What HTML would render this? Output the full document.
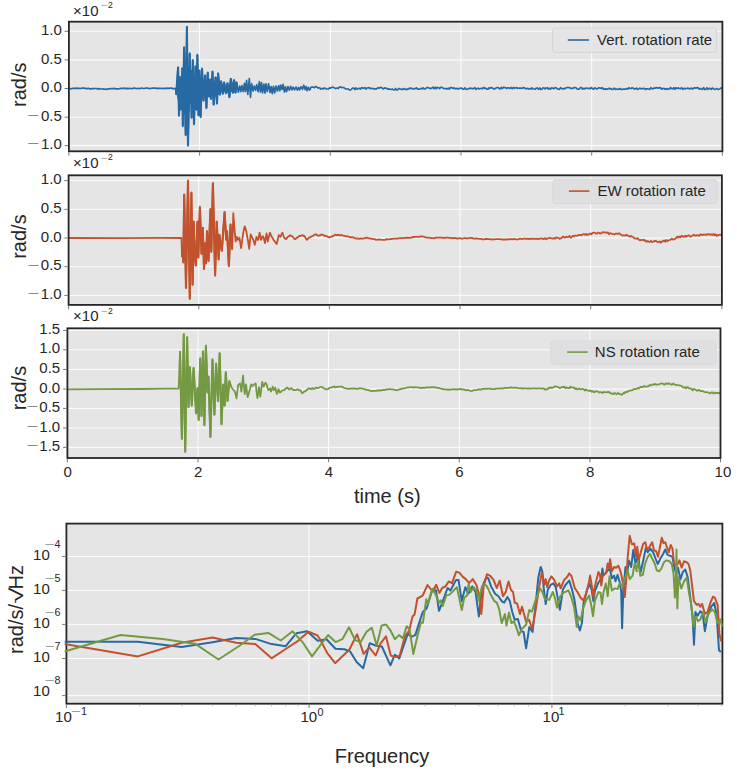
<!DOCTYPE html>
<html><head><meta charset="utf-8"><title>Rotation rate</title>
<style>html,body{margin:0;padding:0;background:#fff}svg{display:block}</style></head>
<body>
<svg width="737" height="772" viewBox="0 0 737 772">
<rect width="737" height="772" fill="#fff"/>
<defs>
<clipPath id="c0"><rect x="66.9" y="21.7" width="655.5" height="129.60000000000002"/></clipPath>
<clipPath id="c1"><rect x="66.6" y="175.3" width="655.3" height="129.59999999999997"/></clipPath>
<clipPath id="c2"><rect x="65.4" y="328.3" width="655.1" height="129.7"/></clipPath>
<clipPath id="c3"><rect x="64.4" y="523.6" width="659.0" height="180.10000000000002"/></clipPath>
</defs>
<rect x="68.9" y="21.7" width="653.5" height="129.60000000000002" fill="#E5E5E5"/>
<path d="M68.9 31.3 H722.4 M68.9 59.9 H722.4 M68.9 88.5 H722.4 M68.9 117.2 H722.4 M68.9 145.6 H722.4 M199.6 21.7 V151.3 M330.3 21.7 V151.3 M461.0 21.7 V151.3 M591.7 21.7 V151.3" stroke="#fff" stroke-width="0.95" fill="none"/>
<rect x="68.6" y="175.3" width="653.3" height="129.59999999999997" fill="#E5E5E5"/>
<path d="M68.6 180.6 H721.9 M68.6 209.3 H721.9 M68.6 238.0 H721.9 M68.6 266.7 H721.9 M68.6 295.4 H721.9 M198.8 175.3 V304.9 M329.4 175.3 V304.9 M460.1 175.3 V304.9 M590.7 175.3 V304.9" stroke="#fff" stroke-width="0.95" fill="none"/>
<rect x="67.4" y="328.3" width="653.1" height="129.7" fill="#E5E5E5"/>
<path d="M67.4 330.4 H720.5 M67.4 349.8 H720.5 M67.4 369.4 H720.5 M67.4 389.0 H720.5 M67.4 408.4 H720.5 M67.4 428.0 H720.5 M67.4 447.4 H720.5 M198.0 328.3 V458.0 M328.6 328.3 V458.0 M459.3 328.3 V458.0 M589.9 328.3 V458.0" stroke="#fff" stroke-width="0.95" fill="none"/>
<rect x="66.4" y="523.6" width="656.0" height="180.10000000000002" fill="#E5E5E5"/>
<path d="M66.4 556.4 H722.4 M66.4 590.4 H722.4 M66.4 624.4 H722.4 M66.4 658.5 H722.4 M66.4 695.6 H722.4 M309.1 523.6 V703.7 M551.9 523.6 V703.7" stroke="#fff" stroke-width="0.95" fill="none"/>
<g fill="none" stroke-linejoin="round" stroke-linecap="butt">
<path clip-path="url(#c0)" d="M68.9 88.5 L70.2 88.5 L71.5 88.8 L72.8 88.4 L74.1 88.4 L75.4 88.4 L76.7 88.1 L78 88.3 L79.3 88.4 L80.6 88.5 L81.9 88.1 L83.2 88.2 L84.5 88.1 L85.8 88.7 L87.1 88.6 L88.4 88.2 L89.7 88.9 L91 88.9 L92.3 88.7 L93.6 88.7 L94.9 88.5 L96.2 88.5 L97.5 88.9 L98.8 88.7 L100.1 88.9 L101.4 89 L102.7 88.9 L104 89.2 L105.3 89.1 L106.6 89.3 L107.9 88.9 L109.2 88.9 L110.5 88.7 L111.8 88.7 L113.1 88.6 L114.4 88.4 L115.7 88.9 L117 88.9 L118.3 88.8 L119.6 88.7 L120.9 88.4 L122.2 88.3 L123.5 88.3 L124.8 88.2 L126.1 88.6 L127.4 88.4 L128.7 88.7 L130 88.3 L131.3 88.7 L132.6 88.6 L133.9 88 L135.2 88.2 L136.5 88.7 L137.8 88.3 L139.1 88.7 L140.4 88.3 L141.7 88 L143 88.4 L144.3 88.5 L145.6 88.2 L146.9 88 L148.2 88.2 L149.5 88.6 L150.8 88.5 L152.1 88.1 L153.4 88.2 L154.7 88.1 L156 88.1 L157.3 88.6 L158.6 88.2 L159.9 88.5 L161.2 88.4 L162.5 88.3 L163.8 88.6 L165.1 88.2 L166.4 88.5 L167.7 88.1 L169 88.3 L170.3 88.1 L171.6 88.1 L172.9 88.6 L174.2 88.7 L175.5 88.5 L176.2 94.5 L178.1 67 L179 115.9 L179.9 76.9 L180.8 110 L182.3 68 L182.8 126.3 L184.1 47.1 L185.7 135.3 L186.9 26.6 L188 145.8 L189.7 53.2 L190.4 103 L191 70.6 L191.6 118 L192.8 59.9 L194 124.4 L195.5 66 L196.5 110 L197.4 54.7 L198.5 115.4 L199.4 70.3 L200.6 117.3 L202 68.4 L203.5 101 L205.1 75 L206.4 108.3 L207.8 72.4 L209 97 L210 79.4 L211 99.2 L212.5 71.3 L213.7 105 L215.6 77 L217 104 L218.1 73.2 L220 95 L221 81 L223 94 L224.1 82.2 L226 93.5 L227.5 83 L229.4 97.3 L230.8 78.6 L233 93 L234.1 79.8 L235.5 93 L236.5 82.2 L237.2 85.3 L238.3 92.2 L239.7 86.2 L240.8 91.7 L241.9 85.6 L243.3 91.6 L244.4 83.3 L245.5 91.5 L246.6 80.3 L247.8 94.3 L249.3 78.5 L250.5 97.3 L251.6 83.7 L253.1 91 L254.2 86 L255.6 90.3 L256.7 84.7 L258.1 91.7 L259.3 81.5 L260.4 92.1 L261.5 82.6 L262.6 93 L263.9 84 L265 93.2 L266 83.9 L267.3 91.5 L268.6 83.9 L270.1 92.5 L271.1 86.5 L272.3 93.7 L273.4 86.3 L274.7 92.9 L275.9 86 L277.3 91 L278.7 85.5 L279.8 90.9 L280.8 85.2 L282.1 89.4 L283.1 84.4 L284.4 92 L285.5 86.9 L286.6 91.6 L287.9 86.6 L289.3 90.1 L290.7 86.4 L291.9 89.8 L293.3 87.2 L294.5 89.8 L296 87.1 L297.3 90 L298.6 87.5 L299.6 89.9 L301.1 86.7 L302.5 89.4 L303.8 85.2 L305.1 89.6 L306.1 86.5 L307.1 90.7 L308.4 87.4 L309.7 90.1 L311 87.4 L312 86.9 L313.1 87.2 L314.2 87.8 L315.3 86.7 L316.4 86.5 L317.5 88 L318.6 87.9 L319.7 87.9 L320.8 89.1 L321.9 88.4 L323 89 L324.1 88 L325.2 88.3 L326.3 89 L327.4 89 L328.5 88.9 L329.6 87.8 L330.7 88.1 L331.8 87.5 L332.9 87.1 L334 87.8 L335.1 88.3 L336.2 88.3 L337.3 88 L338.4 88.4 L339.5 87 L340.6 86.9 L341.7 87.7 L342.8 87.6 L343.9 87.7 L345 88.4 L346.1 89 L347.2 89 L348.3 88.8 L349.4 89.8 L350.5 90 L351.6 88.9 L352.7 88.2 L353.8 88 L354.9 89.6 L356 87.9 L357.1 89.1 L358.2 88.8 L359.3 88.3 L360.4 89.1 L361.5 87.7 L362.6 87.9 L363.7 88.4 L364.8 87.6 L365.9 89.1 L367 88 L368.1 87.8 L369.2 87.6 L370.3 88.6 L371.4 88.3 L372.5 88.6 L373.6 88.6 L374.7 88.9 L375.8 89.2 L376.9 88.6 L378 87.7 L379.1 88.2 L380.2 87.6 L381.3 87.4 L382.4 88.3 L383.5 88.9 L384.6 87.9 L385.7 88.2 L386.8 88.4 L387.9 89.2 L389 88.9 L390.1 89.2 L391.2 89.5 L392.3 88.9 L393.4 89.7 L394.5 90 L395.6 88.5 L396.7 90 L397.8 89.6 L398.9 88.4 L400 88.9 L401.1 89.2 L402.2 89.6 L403.3 88.6 L404.4 88.9 L405.5 89.4 L406.6 89.2 L407.7 89.4 L408.8 88.4 L409.9 88.7 L411 87.8 L412.1 88.8 L413.2 89 L414.3 88.6 L415.4 88.7 L416.5 87.8 L417.6 89.1 L418.7 89.2 L419.8 89.2 L420.9 88.3 L422 88.8 L423.1 87.9 L424.2 89 L425.3 88.9 L426.4 87.9 L427.5 87.4 L428.6 88 L429.7 88.2 L430.8 88.6 L431.9 88.1 L433 87.2 L434.1 88.7 L435.2 87.2 L436.3 88.6 L437.4 87.4 L438.5 87.7 L439.6 88.6 L440.7 87.3 L441.8 87.4 L442.9 88.1 L444 88.5 L445.1 88.7 L446.2 88.5 L447.3 89 L448.4 88.2 L449.5 89 L450.6 87.4 L451.7 87.7 L452.8 88.3 L453.9 87.9 L455 88.7 L456.1 88.6 L457.2 88.4 L458.3 89 L459.4 88.5 L460.5 88.1 L461.6 88.2 L462.7 89.1 L463.8 89.2 L464.9 87.9 L466 89.2 L467.1 89.4 L468.2 88.6 L469.3 88.7 L470.4 88 L471.5 88.6 L472.6 88.6 L473.7 88.7 L474.8 87.6 L475.9 89.4 L477 88.5 L478.1 88.3 L479.2 89 L480.3 88.5 L481.4 88.4 L482.5 88.8 L483.6 87.5 L484.7 88.4 L485.8 88.2 L486.9 89.2 L488 89.1 L489.1 87.8 L490.2 88.2 L491.3 87.5 L492.4 88.1 L493.5 88.8 L494.6 89 L495.7 88.1 L496.8 87.8 L497.9 87.5 L499 88.3 L500.1 88.9 L501.2 87.4 L502.3 88.7 L503.4 87.2 L504.5 87.6 L505.6 87.6 L506.7 88.5 L507.8 87.8 L508.9 87.9 L510 88.4 L511.1 87.5 L512.2 88.7 L513.3 87.5 L514.4 88.3 L515.5 87.8 L516.6 87.7 L517.7 88.3 L518.8 88.2 L519.9 88.1 L521 88.1 L522.1 88.4 L523.2 87.7 L524.3 87.8 L525.4 88.6 L526.5 88.6 L527.6 88.4 L528.7 89.1 L529.8 88.6 L530.9 89.1 L532 87.9 L533.1 88.9 L534.2 89 L535.3 89.2 L536.4 88.1 L537.5 88.1 L538.6 89.3 L539.7 88 L540.8 89.4 L541.9 89.2 L543 87.8 L544.1 88 L545.2 88.9 L546.3 88 L547.4 87.7 L548.5 89.1 L549.6 88.3 L550.7 89 L551.8 87.7 L552.9 88.3 L554 88.8 L555.1 87.5 L556.2 87.9 L557.3 88.8 L558.4 89.2 L559.5 89.3 L560.6 87.7 L561.7 88.4 L562.8 88.9 L563.9 88.4 L565 88.7 L566.1 87.8 L567.2 87.5 L568.3 87.6 L569.4 87.5 L570.5 88.4 L571.6 88.4 L572.7 88.5 L573.8 87.7 L574.9 87.7 L576 87.8 L577.1 89 L578.2 89.2 L579.3 89.1 L580.4 87.5 L581.5 87.5 L582.6 89.2 L583.7 88.3 L584.8 88.9 L585.9 88 L587 88.3 L588.1 88.4 L589.2 88.3 L590.3 88.6 L591.4 87.5 L592.5 88.8 L593.6 89.1 L594.7 87.8 L595.8 88.4 L596.9 88.9 L598 88.3 L599.1 87.9 L600.2 87.9 L601.3 88.5 L602.4 87.6 L603.5 89.3 L604.6 89.1 L605.7 88.9 L606.8 89.3 L607.9 88.8 L609 88.4 L610.1 88.8 L611.2 88.6 L612.3 89.5 L613.4 89.2 L614.5 88.2 L615.6 89.4 L616.7 89.1 L617.8 89.2 L618.9 89.3 L620 88.5 L621.1 89.4 L622.2 89.4 L623.3 89 L624.4 89.2 L625.5 89.2 L626.6 88.5 L627.7 89.1 L628.8 87.8 L629.9 88.3 L631 88.6 L632.1 87.7 L633.2 88.3 L634.3 88.9 L635.4 88.8 L636.5 88.1 L637.6 89.4 L638.7 88.9 L639.8 88.2 L640.9 88.8 L642 88.7 L643.1 88.6 L644.2 88.3 L645.3 89.5 L646.4 88.8 L647.5 88.9 L648.6 89 L649.7 89.4 L650.8 87.6 L651.9 88.7 L653 88.9 L654.1 88 L655.2 88.2 L656.3 87.6 L657.4 87.8 L658.5 88.2 L659.6 87.6 L660.7 87.9 L661.8 89.2 L662.9 88.5 L664 88.4 L665.1 89.3 L666.2 88.6 L667.3 89.4 L668.4 88.7 L669.5 89 L670.6 87.6 L671.7 88.6 L672.8 89 L673.9 87.6 L675 89.3 L676.1 87.8 L677.2 88.4 L678.3 87.9 L679.4 88.5 L680.5 88.7 L681.6 87.7 L682.7 89.4 L683.8 88.4 L684.9 88.6 L686 88.7 L687.1 88.3 L688.2 88.1 L689.3 88.8 L690.4 88.7 L691.5 88.1 L692.6 89 L693.7 88.2 L694.8 87.7 L695.9 88.1 L697 87.7 L698.1 87.9 L699.2 89.1 L700.3 88.4 L701.4 89.3 L702.5 89.1 L703.6 87.7 L704.7 89.5 L705.8 89.4 L706.9 87.8 L708 89.3 L709.1 88.4 L710.2 88.5 L711.3 89.4 L712.4 88.1 L713.5 88.6 L714.6 89.4 L715.7 89 L716.8 88.5 L717.9 89.4 L719 89.1 L720.1 88.7 L721.2 87.8 L722.3 88.7" stroke="#276AA3" stroke-width="1.7"/>
<path clip-path="url(#c0)" d="M176.2 94.5 L178.1 67 L179 115.9 L179.9 76.9 L180.8 110 L182.3 68 L182.8 126.3 L184.1 47.1 L185.7 135.3 L186.9 26.6 L188 145.8 L189.7 53.2 L190.4 103 L191 70.6 L191.6 118 L192.8 59.9 L194 124.4 L195.5 66 L196.5 110 L197.4 54.7 L198.5 115.4 L199.4 70.3 L200.6 117.3 L202 68.4 L203.5 101 L205.1 75 L206.4 108.3 L207.8 72.4 L209 97 L210 79.4 L211 99.2 L212.5 71.3 L213.7 105 L215.6 77 L217 104 L218.1 73.2 L220 95 L221 81 L223 94 L224.1 82.2 L226 93.5 L227.5 83 L229.4 97.3 L230.8 78.6 L233 93 L234.1 79.8 L235.5 93 L236.5 82.2" stroke="#276AA3" stroke-width="2.1" stroke-linejoin="miter" stroke-miterlimit="6"/>
<path clip-path="url(#c0)" d="M177 84.8 L178 98.3 L179 77.6 L179.8 99.7 L180.8 77 L181.7 103.9 L182.5 78 L183.3 111.6 L184.1 64.7 L185.1 114.4 L186 63.6 L187 118.1 L188.1 67.8 L188.8 111.5 L189.8 72.5 L190.7 95.7 L191.6 74.3 L192.5 105.4 L193.5 77.7 L194.6 104.6 L195.5 78.7 L196.5 97.1 L197.6 69.7 L198.5 100.9 L199.3 78 L200.1 102.6 L201.2 81.4 L202 98.1 L202.9 79.9 L203.8 93.6 L205 80.4 L206 99.4 L206.8 80.4 L207.8 93.6 L208.6 79.6 L209.4 92.4 L210.3 79.5 L211.2 92.8 L212.3 79.1 L213.2 95.7 L214.2 83.2 L215.2 96.1 L216.1 83.5 L216.9 97.3 L217.7 82.4 L218.6 93.7 L219.4 82.1 L220.2 91.4 L221 84.9 L221.8 91.7 L222.8 84.9 L223.6 91.7 L224.4 85.8 L225.3 91.5 L226.1 85.6 L227.3 92.1 L228.4 85.2 L229.3 92.3 L230.2 83.1 L231.2 91.4 L232.2 83.3 L233.3 90 L234.4 84.1 L235.5 90.3 L236.3 84.6" stroke="#276AA3" stroke-width="1.5"/>
<path clip-path="url(#c1)" d="M68.6 238 L120 238.1 L160 237.9 L181.4 238 L182.1 256.8 L182.7 250 L183.3 262.5 L184.2 194.3 L186 288.2 L188 180.5 L189.8 299.1 L191.4 192.4 L192.6 284.9 L193.7 221.4 L194.6 252 L195.8 265.9 L197.5 221.4 L198.3 257.8 L199.9 206.7 L201.5 254 L202.8 227.6 L204 269.2 L205 243 L206.1 263.5 L207 230.9 L208.5 261.1 L210.4 209 L211.3 252.1 L212.9 182.9 L215.1 275.8 L216.7 221.4 L218.6 259.7 L219.4 234.7 L220.4 243 L221.8 251.1 L224.6 211.9 L226.2 240 L227 230.9 L228.9 266.3 L230.5 224.2 L232.2 249.2 L233.3 213.1 L234.1 223.7 L234.9 234.2 L235.7 241.5 L236.8 236.8 L238.1 239.9 L239.4 237.6 L240.3 243.1 L241.1 248.1 L242.1 241 L243 234.3 L243.8 230.2 L244.7 226.3 L245.5 228.6 L246.3 231.2 L247.1 236 L247.9 240.1 L249.2 248.9 L250 241.2 L250.7 234.4 L251.7 236.7 L252.8 238.4 L253.8 241.5 L254.8 244.8 L255.6 241 L256.4 236.8 L257.2 238.5 L258 240.1 L258.8 236.6 L259.6 232.6 L260.9 239.9 L261.8 238.5 L262.6 236.1 L263.7 237.7 L265 243.1 L265.8 237.9 L266.6 233.4 L267.8 241.6 L268.8 237.3 L269.9 232.6 L271 235.2 L272 237.4 L272.8 238.2 L273.5 239.9 L274.3 240.8 L275.1 242.1 L275.9 242.9 L276.7 244.1 L277.8 239.3 L278.9 235.1 L279.7 236.2 L280.5 236.9 L281.5 234.3 L282.4 232.6 L283.3 235.5 L284.1 237.6 L285.1 238.7 L286.2 239.1 L287 237.9 L287.8 236.7 L288.6 236.6 L289.4 235.5 L290.3 235.2 L291.1 236.2 L291.9 236 L292.7 236.8 L293.5 237.8 L294.3 238.9 L295.1 239.2 L296 238.5 L296.8 237.7 L297.6 237.7 L298.4 236.6 L299.2 236 L300 236 L300.8 235.7 L301.7 235.6 L302.5 235.1 L303.3 236 L304.1 235.7 L304.9 236.7 L305.9 238.6 L306.9 239.9 L307.9 238.6 L309 237.6 L309.8 237.5 L310.6 236.8 L311.4 236.6 L312.2 236.1 L313.1 235.9 L313.9 235.1 L314.7 234.4 L315.5 234.8 L316.3 234.3 L317.1 235.2 L317.9 235.7 L318.8 235.8 L319.6 235.2 L320.4 235.3 L321.2 234.6 L322 234.6 L322.8 234.9 L323.6 235.3 L324.5 235.9 L325.3 235.6 L326.1 236.2 L326.9 236.4 L327.7 236.8 L328.5 237.1 L329.3 237.5 L330.2 236.8 L331 236.8 L331.8 236.7 L332.6 236 L333.4 236 L334.2 235.4 L335 234.7 L335.9 234.9 L336.7 235.3 L337.5 234.8 L338.3 234.6 L339.1 235.3 L341.5 235 L343 235.7 L344.5 235.8 L346 236.4 L347.5 236.2 L349 236.9 L350.5 237.4 L352 237.2 L353.5 237.5 L355 238.2 L356.5 238.7 L358 238.4 L359.5 238.9 L361 238.4 L362.5 238.6 L364 238.3 L365.5 237.8 L367 237.6 L368.5 238.3 L370 238.4 L371.5 238.9 L373 238.9 L374.5 239.2 L376 239.8 L377.5 239.6 L379 239.5 L380.5 239.6 L382 239.8 L383.5 239.8 L385 239.8 L386.5 239.2 L388 239.4 L389.5 239.1 L391 239 L392.5 238.8 L394 238.6 L395.5 238.6 L397 238.5 L398.5 238.3 L400 238.1 L401.5 238.2 L403 238.2 L404.5 237.9 L406 237.8 L407.5 237.6 L409 237.8 L410.5 237.9 L412 237.3 L413.5 237 L415 236.9 L416.5 236.9 L418 236.6 L419.5 237 L421 236.2 L422.5 236.5 L424 236.7 L425.5 237.4 L427 237.7 L428.5 237.6 L430 237.8 L431.5 238 L433 238.1 L434.5 238.3 L436 237.6 L437.5 237.6 L439 237.7 L440.5 237.6 L442 237.6 L443.5 238 L445 237.9 L446.5 237.7 L448 237.7 L449.5 237.9 L451 237.8 L452.5 238.3 L454 238 L455.5 238.2 L457 238.5 L458.5 238.3 L460 238.2 L461.5 238.6 L463 238.5 L464.5 238.1 L466 238.2 L467.5 238.5 L469 238.1 L470.5 237.9 L472 237.9 L473.5 238.6 L475 238.7 L476.5 238.5 L478 238.7 L479.5 238.8 L481 238.8 L482.5 239.4 L484 239.3 L485.5 239 L487 238.9 L488.5 239.2 L490 239.2 L491.5 239.5 L493 239.4 L494.5 239.4 L496 239.1 L497.5 239.1 L499 239.2 L500.5 239.2 L502 239.7 L503.5 239.4 L505 239.5 L506.5 239.7 L508 239.2 L509.5 239.3 L511 239 L512.5 239.4 L514 238.9 L515.5 239.4 L517 239.4 L518.5 239.3 L520 238.7 L521.5 238.8 L523 239 L524.5 238.5 L526 238.8 L527.5 238.7 L529 239 L530.5 238.7 L532 238.9 L533.5 238.6 L535 238.9 L536.5 238.7 L538 239.1 L539.5 238.6 L542 238.4 L543.1 239 L544.2 238.9 L545.3 238.1 L546.4 239.4 L547.5 238.3 L548.6 238.2 L549.7 237.7 L550.8 238.1 L551.9 238.3 L553 238.7 L554.1 238 L555.2 238.6 L556.3 237.3 L557.4 237.8 L558.5 237.9 L559.6 238.8 L560.7 238.4 L561.8 237.9 L562.9 236.5 L564 237.1 L565.1 237.7 L566.2 236.6 L567.3 237.2 L568.4 236.9 L569.5 235.9 L570.6 237.7 L571.7 237.2 L572.8 235.8 L573.9 236.4 L575 235.6 L576.1 235.6 L577.2 235.8 L578.3 235.1 L579.4 235 L580.5 234.9 L581.6 235.3 L582.7 234.3 L583.8 234 L584.9 234.9 L586 234 L587.1 235.1 L588.2 234.2 L589.3 234.4 L590.4 233.5 L591.5 234.4 L592.6 232.8 L593.7 232.7 L594.8 232.6 L595.9 233.7 L597 233.7 L598.1 232.5 L599.2 232.9 L600.3 233.7 L601.4 233.1 L602.5 232.1 L603.6 232.5 L604.7 232.4 L605.8 232.4 L606.9 233 L608 232.4 L609.1 234.2 L610.2 233.2 L611.3 233.5 L612.4 233.8 L613.5 234.2 L614.6 234.4 L615.7 233.6 L616.8 233.7 L617.9 233.9 L619 233.2 L620.1 234.1 L621.2 234.8 L622.3 235.5 L623.4 235.4 L624.5 235.4 L625.6 235.6 L626.7 234.7 L627.8 235.6 L628.9 235.9 L630 236.8 L631.1 235.9 L632.2 236.8 L633.3 237.3 L634.4 238.2 L635.5 238.7 L636.6 238.6 L637.7 238.1 L638.8 239.7 L639.9 240.3 L641 240 L642.1 239.8 L643.2 240.3 L644.3 239.7 L645.4 241.1 L646.5 241.8 L647.6 241 L648.7 241.6 L649.8 242 L650.9 240.8 L652 242.3 L653.1 241.8 L654.2 241 L655.3 240.8 L656.4 241.2 L657.5 241.9 L658.6 242.2 L659.7 241.5 L660.8 242.6 L661.9 241.3 L663 241.3 L664.1 240.4 L665.2 241.8 L666.3 239.9 L667.4 241.3 L668.5 240.3 L669.6 240 L670.7 239.6 L671.8 238.6 L672.9 239.6 L674 239.4 L675.1 238.7 L676.2 237.9 L677.3 236.6 L678.4 237.7 L679.5 236.4 L680.6 237.3 L681.7 235.7 L682.8 236.4 L683.9 237 L685 235.8 L686.1 236.7 L687.2 235.8 L688.3 235.5 L689.4 235.5 L690.5 236.8 L691.6 236.3 L692.7 235.4 L693.8 234.7 L694.9 235.5 L696 235.7 L697.1 235 L698.2 235.4 L699.3 235.9 L700.4 234.4 L701.5 234.7 L702.6 235.1 L703.7 234.4 L704.8 234.7 L705.9 235 L707 234.1 L708.1 234.7 L709.2 234.1 L710.3 234.8 L711.4 234.4 L712.5 235 L713.6 233.9 L714.7 235.3 L715.8 234.3 L716.9 236 L718 235.2 L719.1 234.9 L720.2 234.7 L721.3 235.1" stroke="#C2522D" stroke-width="1.8"/>
<path clip-path="url(#c1)" d="M182.1 256.8 L182.7 250 L183.3 262.5 L184.2 194.3 L186 288.2 L188 180.5 L189.8 299.1 L191.4 192.4 L192.6 284.9 L193.7 221.4 L194.6 252 L195.8 265.9 L197.5 221.4 L198.3 257.8 L199.9 206.7 L201.5 254 L202.8 227.6 L204 269.2 L205 243 L206.1 263.5 L207 230.9 L208.5 261.1 L210.4 209 L211.3 252.1 L212.9 182.9 L215.1 275.8 L216.7 221.4 L218.6 259.7 L219.4 234.7 L220.4 243 L221.8 251.1 L224.6 211.9 L226.2 240 L227 230.9 L228.9 266.3 L230.5 224.2 L232.2 249.2" stroke="#C2522D" stroke-width="2.1" stroke-linejoin="miter" stroke-miterlimit="6"/>
<path clip-path="url(#c2)" d="M67.4 389.3 L100 389.2 L140 389 L165 388.6 L178.7 388.5 L180 351.6 L181.9 439.1 L183.8 334 L185.2 452 L187.1 336.9 L188.5 407.3 L189.9 366.8 L191.8 405.9 L193.6 367.7 L196.1 413.5 L197.5 388 L198.7 420.1 L200.2 358.2 L201.5 416.3 L203 351.1 L204.4 425.4 L205.9 345.4 L207.5 392.6 L208.5 376.3 L210.4 437.2 L212.5 359.2 L214.4 414.9 L216.1 363.5 L218 401.1 L219.7 353 L221.5 424.4 L223.2 384.4 L224.6 405.9 L225.8 372 L227.5 401.1 L229.4 381 L231.6 387.6 L232.6 389 L233.6 390.1 L234.9 391.7 L235.7 394.9 L236.5 398.3 L237.3 392 L238.1 385.2 L239.1 384.2 L240.1 383.5 L241.4 391.7 L242.2 383.9 L243 375.4 L243.8 384.8 L244.7 394.1 L246 384.4 L246.8 390.6 L247.6 397.2 L248.4 394.7 L249.2 391.8 L250.2 388.2 L251.2 384.3 L252 385.4 L252.8 385.9 L253.6 385.2 L254.4 384.2 L255.7 383.4 L256.5 390.8 L257.4 398.2 L258.2 392.8 L259 387.4 L260.3 396.6 L261.3 389.2 L262.2 381.8 L263.6 386.7 L264.5 384.6 L265.5 382.6 L266.8 385 L267.6 388 L268.4 390.2 L269.3 389.4 L270.1 388.5 L271 391.6 L271.9 389.5 L272.7 386.7 L274 390.1 L275.3 387.6 L276.1 391.3 L276.9 394 L277.7 392 L278.5 389.1 L279.8 392.5 L280.8 392.1 L281.8 390.7 L282.8 390.4 L283.7 390.4 L284.6 389.6 L285.4 388.6 L286.2 388.5 L287.3 387.4 L288.1 388.3 L289 389.5 L290 389.1 L291.1 388.2 L291.9 388.4 L292.7 389.9 L293.5 390 L294.3 389.9 L295.1 390.2 L296 390.2 L296.8 389.5 L297.6 389.3 L298.4 389.5 L299.2 390.4 L300 390.1 L300.8 390.8 L301.7 392.6 L302.5 393.2 L303.3 392.4 L304.1 391.5 L304.9 391.5 L305.7 391.1 L306.5 389.9 L307.4 389.6 L308.2 388.6 L309 388.5 L309.8 388.3 L310.6 389.1 L311.4 388.9 L312.2 388 L313.1 388.9 L313.9 389 L314.7 388.7 L315.5 387.6 L316.3 387.6 L317.1 388.2 L317.9 387.8 L318.8 387.9 L319.6 387.3 L320.4 387 L321.2 386.8 L322 387 L322.8 387.5 L323.6 388.3 L324.5 388.8 L325.3 389.3 L326.1 389.2 L326.9 389.2 L327.7 389.3 L328.5 388.7 L329.3 388 L330.2 387.7 L331 387.7 L331.8 387.5 L332.6 386.8 L333.4 386.8 L334.2 386.4 L335 387.5 L335.9 387.1 L336.7 387 L337.5 386.9 L338.3 386.6 L341.5 386.6 L343 387.2 L344.5 388.2 L346 388.3 L347.5 388.7 L349 389 L350.5 388.6 L352 388.5 L353.5 388.7 L355 388.4 L356.5 388.8 L358 388.8 L359.5 388.1 L361 388.3 L362.5 388.7 L364 388.9 L365.5 389.7 L367 389.8 L368.5 390.1 L370 390.7 L371.5 391.1 L373 390.8 L374.5 390.9 L376 390.8 L377.5 390.5 L379 390.4 L380.5 390.5 L382 390.2 L383.5 389.9 L385 390 L386.5 389.2 L388 389.5 L389.5 389 L391 389.4 L392.5 389.3 L394 389.6 L395.5 390 L397 390.2 L398.5 389.8 L400 389.1 L401.5 389 L403 388.4 L404.5 388.4 L406 388 L407.5 387.3 L409 387.4 L410.5 387.1 L412 387.2 L413.5 387.5 L415 387.2 L416.5 387.3 L418 387.4 L419.5 387.9 L421 388 L422.5 387.9 L424 387.6 L425.5 387.9 L427 387.2 L428.5 387.6 L430 387.3 L431.5 387.1 L433 387.3 L434.5 387.2 L436 387.5 L437.5 387.9 L439 388 L440.5 388.5 L442 389 L443.5 389.2 L445 389.4 L446.5 389.7 L448 389.3 L449.5 389.8 L451 389.3 L452.5 389.3 L454 389.1 L455.5 389.4 L457 389.5 L458.5 389.4 L460 388.9 L461.5 389.4 L463 389.5 L464.5 389.6 L466 390.4 L467.5 389.9 L469 390.4 L470.5 390.8 L472 391.1 L473.5 390.2 L475 390.2 L476.5 390.2 L478 389.5 L479.5 389.4 L481 389.6 L482.5 388.8 L484 388.8 L485.5 388.7 L487 388.8 L488.5 388.6 L490 388.6 L491.5 389.2 L493 389.1 L494.5 389 L496 388.7 L497.5 388.7 L499 388.7 L500.5 388.4 L502 388.3 L503.5 388.5 L505 387.9 L506.5 387.8 L508 388 L509.5 387.6 L511 387.3 L512.5 387.6 L514 387.9 L515.5 387.5 L517 387.8 L518.5 388.1 L520 388.3 L521.5 388.2 L523 388.5 L524.5 388.3 L526 388.3 L527.5 388.6 L529 388.3 L530.5 388.6 L532 388.3 L533.5 388.4 L535 388.3 L536.5 388.6 L538 388.3 L539.5 388.4 L542 388.6 L543.1 388.3 L544.2 388.7 L545.3 389.8 L546.4 389.2 L547.5 389.4 L548.6 387.8 L549.7 388 L550.8 387.1 L551.9 388.1 L553 387.3 L554.1 386.9 L555.2 386.3 L556.3 386.6 L557.4 386.8 L558.5 387.1 L559.6 388.2 L560.7 387.8 L561.8 386.9 L562.9 387.1 L564 386.7 L565.1 388.3 L566.2 387.2 L567.3 388 L568.4 387.9 L569.5 388.3 L570.6 386.6 L571.7 387.4 L572.8 387.7 L573.9 387.3 L575 389.1 L576.1 388.2 L577.2 389.4 L578.3 389.1 L579.4 388.4 L580.5 389.3 L581.6 389.2 L582.7 389 L583.8 389.4 L584.9 390.5 L586 389.5 L587.1 390.3 L588.2 390.6 L589.3 391 L590.4 390.4 L591.5 391.7 L592.6 390.9 L593.7 392 L594.8 392 L595.9 391.2 L597 391.4 L598.1 391.7 L599.2 392.7 L600.3 392.1 L601.4 392.2 L602.5 393.2 L603.6 392 L604.7 392.2 L605.8 392.4 L606.9 392.2 L608 392 L609.1 392 L610.2 393.3 L611.3 393.2 L612.4 393.8 L613.5 394.2 L614.6 392.9 L615.7 393.7 L616.8 394.3 L617.9 392.9 L619 393.9 L620.1 394 L621.2 394.6 L622.3 394.5 L623.4 392.9 L624.5 393.3 L625.6 391.8 L626.7 392.1 L627.8 391.6 L628.9 390.6 L630 390.8 L631.1 390.3 L632.2 390.3 L633.3 389.5 L634.4 388.9 L635.5 389.1 L636.6 388.9 L637.7 387.9 L638.8 388.6 L639.9 387.4 L641 386.8 L642.1 387 L643.2 386.8 L644.3 386 L645.4 386.6 L646.5 386.7 L647.6 386.2 L648.7 386.3 L649.8 384.7 L650.9 385.3 L652 385 L653.1 384.2 L654.2 384.7 L655.3 383.9 L656.4 384.6 L657.5 384.7 L658.6 384.4 L659.7 384 L660.8 383.7 L661.9 383.2 L663 383.7 L664.1 384.7 L665.2 383.9 L666.3 383.3 L667.4 384.1 L668.5 383.2 L669.6 383.8 L670.7 384.1 L671.8 384.8 L672.9 383.7 L674 384.1 L675.1 384.9 L676.2 384.9 L677.3 385 L678.4 385.3 L679.5 385.3 L680.6 385.7 L681.7 385.8 L682.8 387.3 L683.9 387.7 L685 387.1 L686.1 388.4 L687.2 387 L688.3 387.5 L689.4 388.6 L690.5 388.5 L691.6 388.9 L692.7 390.4 L693.8 389 L694.9 389.4 L696 389.8 L697.1 390.9 L698.2 390.2 L699.3 389.9 L700.4 391.2 L701.5 391.1 L702.6 390.9 L703.7 391.6 L704.8 392.2 L705.9 392.1 L707 392.4 L708.1 392.4 L709.2 393.1 L710.3 393.5 L711.4 392.3 L712.5 392.4 L713.6 393.6 L714.7 392.6 L715.8 393.2 L716.9 393 L718 392.9 L719.1 393.3 L720.2 392.8" stroke="#739A43" stroke-width="1.8"/>
<path clip-path="url(#c2)" d="M180 351.6 L181.9 439.1 L183.8 334 L185.2 452 L187.1 336.9 L188.5 407.3 L189.9 366.8 L191.8 405.9 L193.6 367.7 L196.1 413.5 L197.5 388 L198.7 420.1 L200.2 358.2 L201.5 416.3 L203 351.1 L204.4 425.4 L205.9 345.4 L207.5 392.6 L208.5 376.3 L210.4 437.2 L212.5 359.2 L214.4 414.9 L216.1 363.5 L218 401.1 L219.7 353 L221.5 424.4 L223.2 384.4 L224.6 405.9 L225.8 372 L227.5 401.1 L229.4 381" stroke="#739A43" stroke-width="2.1" stroke-linejoin="miter" stroke-miterlimit="6"/>
</g>
<rect x="68.9" y="21.7" width="653.5" height="129.60000000000002" fill="none" stroke="#262626" stroke-width="1.8"/>
<rect x="68.6" y="175.3" width="653.3" height="129.59999999999997" fill="none" stroke="#262626" stroke-width="1.8"/>
<rect x="67.4" y="328.3" width="653.1" height="129.7" fill="none" stroke="#262626" stroke-width="1.8"/>
<rect x="66.4" y="523.6" width="656.0" height="180.10000000000002" fill="none" stroke="#262626" stroke-width="1.8"/>
<g fill="none" stroke-linejoin="round">
<path clip-path="url(#c3)" d="M64.5 641.8 L137.9 641.8 L181.6 647.1 L212.6 642.2 L236.1 638 L255.3 638.9 L271.6 644.1 L285.7 646.2 L296.5 633.2 L307 631.3 L317.7 640.8 L326.5 639.2 L335.5 648.7 L344.4 649.3 L350.1 651.4 L356.6 662 L363.2 668.2 L369.7 643.3 L376.2 645.7 L381.9 646.5 L390.4 665.3 L394.9 654.7 L399.3 658.4 L407.9 633.5 L411.2 636.8 L415.3 635.1 L422.6 612.3 L426.7 608.3 L432.4 589.5 L436 590.4 L439 610.8 L442.2 602.7 L447.6 588 L450.4 590.5 L456.1 579.9 L458.5 579.9 L461.8 601.1 L465.3 587.2 L468.3 593.7 L472.3 586.4 L475.6 592.1 L478.9 616.5 L482.1 587.2 L486.2 577.5 L488.3 578.3 L491.1 586.4 L495.1 593.7 L498.4 596.2 L501.7 601.1 L504.1 602.7 L507.4 597 L509.8 601.1 L512.2 611.7 L514.7 619.8 L517.9 619 L521.2 631.2 L523.6 632 L526.1 648.3 L529.3 627.1 L532.6 632 L535.9 601.9 L538.3 577.5 L540.7 566.9 L542.4 571.8 L543.6 587 L545.7 604.1 L547.8 589.8 L550.7 584.8 L553.5 583.4 L555.7 587 L557.8 598.4 L559.9 609.8 L562.8 589.8 L565.6 584.8 L569.2 580.6 L572.1 589.8 L574.2 598.4 L576.3 612.6 L577.7 624 L579.9 630.4 L582 622.6 L583.4 604.1 L587 589.8 L589.9 584.1 L591.6 589.8 L593.4 601.2 L594.8 591.3 L598.4 582.7 L601.3 578.4 L602.4 568.5 L603.4 575.6 L607 571.3 L609.8 568.5 L611.9 578.4 L614.1 575.6 L615.5 581.3 L617.6 574.9 L619.8 582.7 L621.2 591.3 L622.1 628.3 L623.3 589.8 L625.5 567 L627.2 572.7 L629 560.6 L631.2 567 L633.3 549.9 L635.4 562.8 L636.8 559.5 L638.1 555.9 L640.4 573.1 L643.1 561.3 L645.9 547.7 L647.7 552.2 L650.4 548.6 L653.1 552.2 L655.9 559.5 L657.7 564 L660.4 558.6 L663.1 554 L665.3 549.5 L667.6 554.9 L670.4 555.9 L672.5 556.8 L674.4 568.6 L676.2 573.1 L678 567.6 L680.4 579.4 L682.7 572.2 L685.3 569.5 L687.6 576.7 L690 594.9 L692.5 615.7 L694 644.8 L695.4 612.1 L697.6 615.7 L700.3 611.2 L702.7 613.9 L704.9 631.2 L707.6 615.7 L711.2 606.7 L714.3 603 L716.7 615.7 L719 650.2 L720.8 652" stroke="#276AA3" stroke-width="2"/>
<path clip-path="url(#c3)" d="M64.5 643.9 L137.9 656.4 L181.6 642.7 L212.6 637.6 L236.1 642.7 L255.3 644.1 L271.6 658.3 L285.7 649 L298.1 640.8 L308.5 631.7 L317.5 635.5 L320 639.2 L327.3 653.1 L335.1 663.2 L349.3 649.8 L357.1 634.3 L363.6 653.9 L369.3 647.4 L375.7 655.5 L380.6 643.3 L386 636.4 L390.8 655.5 L395.2 657.1 L399.8 655.5 L404.7 636.8 L409.3 630.3 L412.5 616.4 L414.5 614.8 L417.4 598.5 L422.6 595.7 L427.5 585 L432.4 591.2 L436.4 585 L433.3 590.5 L436.2 584.8 L439.4 592.9 L442.2 588 L445.5 586.4 L448.7 581.5 L452 583.2 L456.1 571.8 L459.3 572.6 L462.6 576.6 L465.8 579.1 L469.1 583.2 L472.7 579.1 L476.4 584.8 L478.9 593.7 L481.3 614.1 L483.7 585.6 L487 574.2 L490.3 575.8 L493.5 579.9 L496.8 588 L499.7 580.7 L503 596.2 L505.7 592.1 L508.5 581.5 L510.9 589.7 L513.1 592.1 L514.7 602.7 L517.1 603.5 L519.9 614.1 L522 606.8 L526.1 621.4 L529 619.8 L532.3 628.8 L535.9 608.4 L539.1 587.2 L541.6 573.4 L541.7 572 L544.3 584.8 L545.7 579.1 L547.1 587 L549.3 579.9 L551.4 576.3 L554.2 579.9 L557.1 586.3 L559.2 583.4 L560.7 588.4 L564.2 579.9 L567.1 577 L569.2 573.4 L571.3 575.6 L574.9 588.4 L577 591.3 L580.6 597.7 L583.4 600.5 L586.3 593.4 L589.1 581.3 L590.1 575.6 L592 587 L593.4 597 L594.8 587 L598.4 572 L599.8 574.2 L601.3 585.6 L602.7 575.6 L606.2 572.7 L607.7 563.5 L609.1 568.5 L610.1 559.2 L611.9 571.3 L614.1 567 L616.2 567.7 L618.3 565.6 L620.5 571.3 L622.6 581.3 L624.8 597 L626.2 579.9 L627.6 558.5 L629.7 535.7 L631.9 544.2 L634.3 543.5 L636.2 557.1 L637.3 546.8 L638.6 560.4 L641.3 550.4 L643.1 544.1 L645.3 542.2 L647.1 549.5 L649.5 546.8 L652.2 542.2 L654 550.4 L656.2 551.3 L658 556.8 L660.4 545 L661.8 537.7 L663.5 543.1 L665.3 542.2 L667.1 547.7 L668.9 552.2 L670.7 545 L672.5 548.6 L674 563.1 L675.8 565.8 L677.6 564 L679.4 560.4 L681.6 567.6 L684 561.3 L686.7 562.2 L688.5 564 L690.3 570.4 L692.2 586.7 L694 601.2 L696.7 604.9 L698.5 603.9 L700.3 606.7 L702.1 603.9 L704.9 613.9 L707.6 612.1 L710.3 603 L713 596.7 L714.8 597.6 L717.6 604.9 L719.4 633.9 L721.2 641.2" stroke="#C2522D" stroke-width="2"/>
<path clip-path="url(#c3)" d="M64.5 651.5 L120.4 635 L162.6 638.9 L194.9 643.7 L218.5 659.5 L238.4 646.5 L254.6 634.8 L268.3 632.9 L280.8 640.5 L292.6 631.3 L303 642.7 L312 656.4 L320 645.7 L328.1 635.1 L335.5 642.1 L342.3 639.2 L349 627.3 L355 640 L360.7 642.1 L366.4 631.9 L371.8 627.8 L376.7 645.7 L381.6 625.4 L386 624.6 L390.4 630.3 L394.9 639.2 L399 635.1 L403.1 638.4 L406.6 626.2 L409.6 629.4 L413.3 653.9 L417.7 635.1 L421 622.1 L422.9 622.9 L426.2 599.3 L427.8 603.4 L432.4 588.7 L435.6 594.4 L435.7 594.6 L439 602.7 L440.6 600.3 L442.7 606 L446.3 595.4 L449.5 594.6 L454.4 589.7 L456.9 587.2 L461.8 610 L464.2 597.8 L467.1 595.4 L468.6 584 L470.7 592.1 L473.6 587.2 L476.4 590.5 L478.9 600.3 L481.8 587.2 L484.6 584 L487 586.4 L490.3 593.7 L494.3 601.1 L496.8 602.7 L499.2 609.2 L501.7 623.1 L504.9 614.1 L506.5 625.5 L509 612.5 L511.4 623.1 L513.9 621.4 L516.3 627.1 L518.8 635.3 L522 628.8 L526.1 624.7 L529.3 610 L531.8 611.7 L535.9 599.4 L540 588.4 L542.1 591.3 L545 599.1 L549.3 599.8 L552.8 592 L555 598.4 L557.1 607.6 L559.9 597 L563.5 592.7 L568.5 590.5 L571.3 597 L574.2 607.6 L576.8 626.9 L578.2 616.2 L580.6 620.5 L582.7 609.8 L585.6 601.2 L589.1 595.5 L591.3 605.5 L593 616.2 L594.8 601.2 L598.4 592 L600.5 592.7 L602 604.1 L603.4 592.7 L605.8 583.4 L607.7 596.2 L609.5 576.3 L611.9 590.5 L614.8 588.4 L617.6 589.1 L619.8 583.4 L622.6 585.6 L625.5 577 L627.6 570.6 L629.7 579.1 L632.6 575.6 L634.7 563.5 L636.9 571.3 L636.3 570.4 L638.1 561.3 L640.4 575.8 L642.8 574.9 L645 564 L647.7 556.8 L650 554 L652.2 558.6 L654.9 564 L656.8 570.4 L659.1 571.3 L661.3 568.6 L664 562.2 L666.4 560.4 L669.5 561.3 L671.8 564 L673.6 574 L674.9 597.6 L675.8 584.9 L676.5 549.5 L677.3 608.5 L678.5 577.6 L681.3 588.5 L684 581.3 L686.7 577.6 L688.9 592.2 L691.2 604.9 L693.6 626.6 L695.8 616.7 L698 621.2 L700.3 619.4 L703 612.1 L705.8 622.1 L708.5 613.9 L712.1 609.4 L714.8 612.1 L717.6 623 L720.3 619.4 L722.1 626.6" stroke="#739A43" stroke-width="2"/>
</g>
<path d="M68.0 31.3 h-3.4 M68.0 59.9 h-3.4 M68.0 88.5 h-3.4 M68.0 117.2 h-3.4 M68.0 145.6 h-3.4 M68.9 152.20000000000002 v3.4 M199.6 152.20000000000002 v3.4 M330.3 152.20000000000002 v3.4 M461.0 152.20000000000002 v3.4 M591.7 152.20000000000002 v3.4 M722.4 152.20000000000002 v3.4 M67.69999999999999 180.6 h-3.4 M67.69999999999999 209.3 h-3.4 M67.69999999999999 238.0 h-3.4 M67.69999999999999 266.7 h-3.4 M67.69999999999999 295.4 h-3.4 M68.6 305.79999999999995 v3.4 M198.8 305.79999999999995 v3.4 M329.4 305.79999999999995 v3.4 M460.1 305.79999999999995 v3.4 M590.7 305.79999999999995 v3.4 M721.9 305.79999999999995 v3.4 M66.5 330.4 h-3.4 M66.5 349.8 h-3.4 M66.5 369.4 h-3.4 M66.5 389.0 h-3.4 M66.5 408.4 h-3.4 M66.5 428.0 h-3.4 M66.5 447.4 h-3.4 M67.4 458.9 v3.4 M198.0 458.9 v3.4 M328.6 458.9 v3.4 M459.3 458.9 v3.4 M589.9 458.9 v3.4 M720.5 458.9 v3.4 M65.5 556.4 h-3.4 M65.5 590.4 h-3.4 M65.5 624.4 h-3.4 M65.5 658.5 h-3.4 M65.5 695.6 h-3.4 M66.4 704.6 v3.4 M309.1 704.6 v3.4 M551.9 704.6 v3.4" stroke="#777" stroke-width="1" fill="none"/>
<path d="M139.5 704.6 v1.8 M182.2 704.6 v1.8 M212.6 704.6 v1.8 M236.1 704.6 v1.8 M255.3 704.6 v1.8 M271.6 704.6 v1.8 M285.7 704.6 v1.8 M298.1 704.6 v1.8 M382.3 704.6 v1.8 M425.0 704.6 v1.8 M455.4 704.6 v1.8 M478.9 704.6 v1.8 M498.1 704.6 v1.8 M514.4 704.6 v1.8 M528.5 704.6 v1.8 M540.9 704.6 v1.8 M625.1 704.6 v1.8 M667.8 704.6 v1.8 M698.2 704.6 v1.8 M721.7 704.6 v1.8" stroke="#aaa" stroke-width="0.8" fill="none"/>
<g font-family="'Liberation Sans', Arial, Helvetica, sans-serif" fill="#262626">
<text x="61.9" y="34.9" font-size="15" text-anchor="end">1.0</text>
<text x="61.9" y="63.5" font-size="15" text-anchor="end">0.5</text>
<text x="61.9" y="92.1" font-size="15" text-anchor="end">0.0</text>
<text x="61.9" y="120.8" font-size="15" text-anchor="end">0.5</text>
<text transform="translate(27.29 120.02) scale(1.580 1)" font-size="13.0" fill="#8a8a8a">−</text>
<text x="61.9" y="149.2" font-size="15" text-anchor="end">1.0</text>
<text transform="translate(27.29 148.42) scale(1.580 1)" font-size="13.0" fill="#8a8a8a">−</text>
<text x="73.1" y="15.6" font-size="15">×10</text>
<text transform="translate(100.75 8.19) scale(1.255 1)" font-size="9" fill="#8a8a8a">−</text>
<text x="107.9" y="7.9" font-size="8.6">2</text>
<text x="61.7" y="184.2" font-size="15" text-anchor="end">1.0</text>
<text x="61.7" y="212.9" font-size="15" text-anchor="end">0.5</text>
<text x="61.7" y="241.6" font-size="15" text-anchor="end">0.0</text>
<text x="61.7" y="270.3" font-size="15" text-anchor="end">0.5</text>
<text transform="translate(27.49 269.52) scale(1.580 1)" font-size="13.0" fill="#8a8a8a">−</text>
<text x="61.7" y="299.0" font-size="15" text-anchor="end">1.0</text>
<text transform="translate(27.49 298.22) scale(1.580 1)" font-size="13.0" fill="#8a8a8a">−</text>
<text x="73.1" y="168.1" font-size="15">×10</text>
<text transform="translate(100.75 160.69) scale(1.255 1)" font-size="9" fill="#8a8a8a">−</text>
<text x="107.9" y="160.4" font-size="8.6">2</text>
<text x="60.2" y="334.0" font-size="15" text-anchor="end">1.5</text>
<text x="60.2" y="353.4" font-size="15" text-anchor="end">1.0</text>
<text x="60.2" y="373.0" font-size="15" text-anchor="end">0.5</text>
<text x="60.2" y="392.6" font-size="15" text-anchor="end">0.0</text>
<text x="60.2" y="412.0" font-size="15" text-anchor="end">0.5</text>
<text transform="translate(26.39 411.22) scale(1.580 1)" font-size="13.0" fill="#8a8a8a">−</text>
<text x="60.2" y="431.6" font-size="15" text-anchor="end">1.0</text>
<text transform="translate(26.39 430.82) scale(1.580 1)" font-size="13.0" fill="#8a8a8a">−</text>
<text x="60.2" y="451.0" font-size="15" text-anchor="end">1.5</text>
<text transform="translate(26.39 450.22) scale(1.580 1)" font-size="13.0" fill="#8a8a8a">−</text>
<text x="73.1" y="321.2" font-size="15">×10</text>
<text transform="translate(100.75 313.79) scale(1.255 1)" font-size="9" fill="#8a8a8a">−</text>
<text x="107.9" y="313.5" font-size="8.6">2</text>
<text x="67.6" y="477.0" font-size="15" text-anchor="middle">0</text>
<text x="198.2" y="477.0" font-size="15" text-anchor="middle">2</text>
<text x="328.8" y="477.0" font-size="15" text-anchor="middle">4</text>
<text x="459.5" y="477.0" font-size="15" text-anchor="middle">6</text>
<text x="590.1" y="477.0" font-size="15" text-anchor="middle">8</text>
<text x="722.9" y="477.0" font-size="15" text-anchor="middle">10</text>
<text transform="translate(26.1 84.7) rotate(-90)" font-size="20" text-anchor="middle">rad/s</text>
<text transform="translate(26.1 236.6) rotate(-90)" font-size="20" text-anchor="middle">rad/s</text>
<text transform="translate(25.6 388.1) rotate(-90)" font-size="20" text-anchor="middle">rad/s</text>
<text transform="translate(23.0 654.0) rotate(-90)" font-size="20">rad/s/</text>
<text transform="translate(23.0 603.8) rotate(-90) scale(1.6 1)" font-size="18.5">√</text>
<text transform="translate(23.0 589.4) rotate(-90)" font-size="20">Hz</text>
<text x="387.3" y="502.9" font-size="20" text-anchor="middle">time (s)</text>
<text x="382.1" y="763.0" font-size="20" text-anchor="middle">Frequency</text>
<text x="33.1" y="559.6" font-size="15">10</text>
<text transform="translate(44.79 548.05) scale(1.512 1)" font-size="11" fill="#8a8a8a">−</text>
<text x="54.6" y="548.1" font-size="10.8">4</text>
<text x="33.1" y="593.6" font-size="15">10</text>
<text transform="translate(44.79 582.05) scale(1.512 1)" font-size="11" fill="#8a8a8a">−</text>
<text x="54.6" y="582.1" font-size="10.8">5</text>
<text x="33.1" y="627.6" font-size="15">10</text>
<text transform="translate(44.79 616.05) scale(1.512 1)" font-size="11" fill="#8a8a8a">−</text>
<text x="54.6" y="616.1" font-size="10.8">6</text>
<text x="33.1" y="661.7" font-size="15">10</text>
<text transform="translate(44.79 650.15) scale(1.512 1)" font-size="11" fill="#8a8a8a">−</text>
<text x="54.6" y="650.2" font-size="10.8">7</text>
<text x="33.1" y="695.6" font-size="15">10</text>
<text transform="translate(44.79 684.05) scale(1.512 1)" font-size="11" fill="#8a8a8a">−</text>
<text x="54.6" y="684.1" font-size="10.8">8</text>
<text x="55.1" y="722.2" font-size="15">10</text>
<text transform="translate(70.89 715.25) scale(1.512 1)" font-size="11" fill="#8a8a8a">−</text>
<text x="81.0" y="714.7" font-size="10.8">1</text>
<text x="300.4" y="722.2" font-size="15">10</text>
<text x="317.6" y="716.4" font-size="10.8">0</text>
<text x="542.6" y="722.2" font-size="15">10</text>
<text x="558.4" y="714.6" font-size="10.8">1</text>
</g>
<rect x="552.4" y="27.9" width="164.2" height="24.5" rx="3" fill="#E4E4E6" fill-opacity="0.85" stroke="#D3D3D5" stroke-width="1"/>
<path d="M567.8 40.0 H589.0" stroke="#276AA3" stroke-width="1.6"/>
<text x="597.1" y="44.9" font-family="'Liberation Sans', Arial, Helvetica, sans-serif" font-size="15" fill="#262626">Vert. rotation rate</text>
<rect x="552.9" y="179.8" width="164.2" height="23.7" rx="3" fill="#DEDEE1" fill-opacity="0.9" stroke="#D6D6D9" stroke-width="1"/>
<path d="M568.9 191.1 H589.5" stroke="#C2522D" stroke-width="1.6"/>
<text x="597.4" y="195.8" font-family="'Liberation Sans', Arial, Helvetica, sans-serif" font-size="15" fill="#262626">EW rotation rate</text>
<rect x="550.8" y="341.0" width="165.3" height="23.2" rx="3" fill="#DEDEE1" fill-opacity="0.95" stroke="#D9D9DC" stroke-width="1"/>
<path d="M567.1 352.1 H587.7" stroke="#739A43" stroke-width="1.6"/>
<text x="594.8" y="356.8" font-family="'Liberation Sans', Arial, Helvetica, sans-serif" font-size="15" fill="#262626">NS rotation rate</text>
</svg>
</body></html>
